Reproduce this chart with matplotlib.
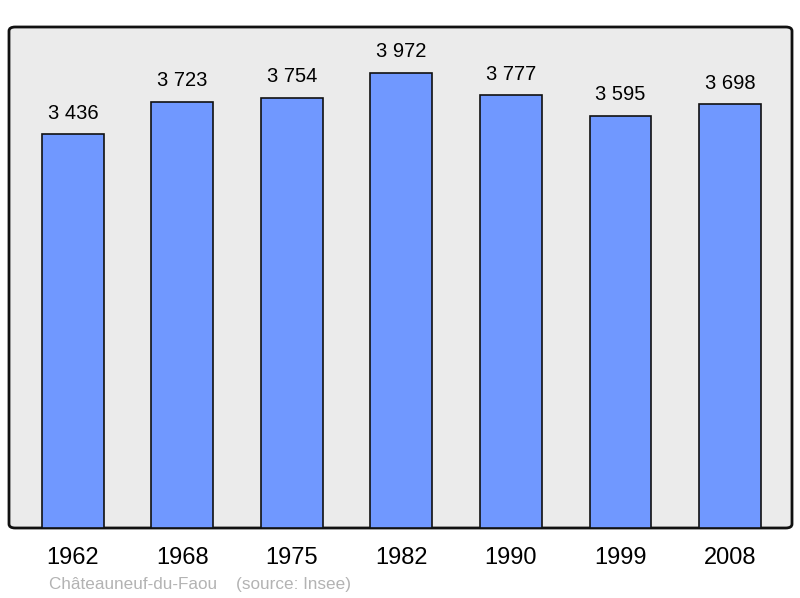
import matplotlib.pyplot as plt
from matplotlib.patches import FancyBboxPatch

years = ['1962', '1968', '1975', '1982', '1990', '1999', '2008']
population = [3436, 3723, 3754, 3972, 3777, 3595, 3698]
labels = ['3 436', '3 723', '3 754', '3 972', '3 777', '3 595', '3 698']

plt.rcParams['font.family'] = ['Liberation Sans', 'DejaVu Sans']

W, H = 800, 598
fig = plt.figure(figsize=(W / 100, H / 100), dpi=100)

x0, y0, x1, y1 = 9, 27, 792, 528
ax = fig.add_axes([x0 / W, 1 - y1 / H, (x1 - x0) / W, (y1 - y0) / H])
ax.patch.set_visible(False)
for s in ax.spines.values():
    s.set_visible(False)

# rounded frame behind the bars
frame = FancyBboxPatch((0, 0), 1, 1, boxstyle='round,pad=0,rounding_size=0.008',
                       transform=ax.transAxes, facecolor='#ebebeb',
                       edgecolor='#111111', linewidth=2, zorder=0, clip_on=False)
ax.add_patch(frame)

xs = range(len(years))
ax.bar(xs, population, width=0.566, color='#7098ff', edgecolor='#111111',
       linewidth=1.2, zorder=2)
for x, v, t in zip(xs, population, labels):
    ax.annotate(t, (x, v), xytext=(0, 8.5), textcoords='offset points',
                ha='center', va='bottom', fontsize=14.5)

ax.set_xlim(-0.584, 6.566)
ax.set_ylim(0, 4374)
ax.set_yticks([])
ax.set_xticks(list(xs))
ax.set_xticklabels(years, fontsize=17)
ax.tick_params(axis='x', length=0, pad=14)

fig.text(49 / W, 1 - 584 / H, 'Châteauneuf-du-Faou    (source: Insee)',
         fontsize=12.3, color='#b3b3b3', ha='left', va='center')

fig.savefig('out.png', dpi=100)
